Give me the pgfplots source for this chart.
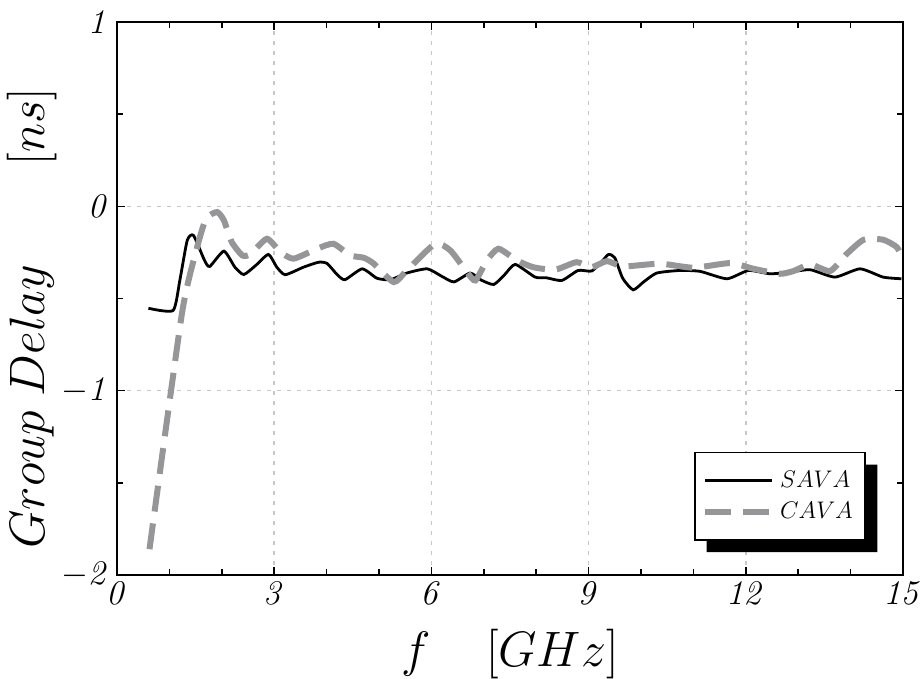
\documentclass[border=0pt]{standalone}
\usepackage{pgfplots}
\pgfplotsset{compat=1.18}
\definecolor{cavagray}{RGB}{150,150,152}
\definecolor{gridgray}{RGB}{200,200,200}
\begin{document}
\begin{tikzpicture}
\begin{axis}[
  name=ax,
  scale only axis,
  width=393pt, height=276.5pt,
  xmin=0, xmax=15, ymin=-2, ymax=1,
  xtick={0,3,6,9,12,15},
  xticklabels={$\mathit{0}$,$\mathit{3}$,$\mathit{6}$,$\mathit{9}$,$\mathit{12}$,$\mathit{15}$},
  ytick={-2,-1,0,1},
  yticklabels={$-\mathit{2}$,$-\mathit{1}$,$\mathit{0}$,$\mathit{1}$},
  minor xtick={1,2,4,5,7,8,10,11,13,14},
  minor ytick={-1.5,-0.5,0.5},
  tick align=inside,
  major tick length=4pt,
  minor tick length=3pt,
  every tick/.style={black, line width=0.8pt},
  axis line style={line width=1pt},
  grid=major,
  major grid style={gridgray, dash pattern=on 2pt off 3pt, line width=0.8pt},
  tick label style={font=\fontsize{17}{20}\selectfont},
  label style={font=\fontsize{25}{30}\selectfont},
  xlabel={$f\mkern20mu[GHz]$},
  ylabel={$Group\ Delay\mkern36mu[ns]$},
  xlabel style={yshift=-5.5pt},
  ylabel style={yshift=-5pt, xshift=-10pt},
  legend style={name=leg, at={(0.952,0.063)}, anchor=south east, draw=none,
     fill=white, font=\fontsize{13}{15}\selectfont, row sep=0pt,
     inner xsep=3.5pt, inner ysep=6pt, nodes={inner xsep=2.5pt, inner ysep=3pt}},
  legend cell align=left,
  legend image code/.code={\draw[#1] (0cm,0cm) -- (1.18cm,0cm);},
]
\addplot[black, line width=1.4pt, smooth, tension=0.35] coordinates {
(0.60,-0.553) (1.07,-0.565) (1.20,-0.40) (1.34,-0.185) (1.46,-0.158) (1.67,-0.293) (1.77,-0.326)
(2.04,-0.243) (2.25,-0.33) (2.42,-0.370) (2.65,-0.32) (2.89,-0.261) (3.05,-0.33) (3.21,-0.371) (3.56,-0.330) (3.85,-0.303)
(4.01,-0.310) (4.20,-0.37) (4.35,-0.398) (4.68,-0.339) (4.96,-0.390) (5.22,-0.398) (5.53,-0.362)
(5.92,-0.339) (6.20,-0.38) (6.43,-0.410) (6.74,-0.362) (6.95,-0.40) (7.19,-0.424) (7.40,-0.37) (7.60,-0.315) (7.98,-0.384)
(8.20,-0.388) (8.49,-0.402) (8.80,-0.348) (9.06,-0.351) (9.25,-0.30) (9.38,-0.261) (9.50,-0.279) (9.65,-0.39)
(9.85,-0.453) (10.05,-0.41) (10.30,-0.362) (10.74,-0.348) (11.13,-0.353) (11.64,-0.393) (12.05,-0.348)
(12.46,-0.366) (12.84,-0.357) (13.23,-0.344) (13.70,-0.384) (14.18,-0.339) (14.62,-0.384)
(14.97,-0.393)
};
\addlegendentry{$SAVA$}
\addplot[cavagray, line width=3pt, dash pattern=on 13pt off 6pt, smooth, tension=0.35] coordinates {
(0.62,-1.86) (1.24,-0.58) (1.53,-0.221) (1.70,-0.067) (1.91,-0.031) (2.04,-0.076)
(2.19,-0.194) (2.39,-0.266) (2.54,-0.261) (2.86,-0.176) (3.12,-0.248) (3.37,-0.284)
(3.82,-0.230) (4.13,-0.203) (4.45,-0.266) (4.71,-0.279) (4.90,-0.311) (5.28,-0.411)
(5.53,-0.348) (6.07,-0.203) (6.36,-0.239) (6.68,-0.357) (6.84,-0.402) (7.06,-0.293)
(7.28,-0.230) (7.63,-0.293) (7.94,-0.330) (8.36,-0.344) (8.77,-0.303) (9.06,-0.330)
(9.35,-0.297) (9.66,-0.326) (10.36,-0.311) (11.00,-0.333) (11.70,-0.308) (12.15,-0.339)
(12.65,-0.366) (12.91,-0.351) (13.23,-0.315) (13.61,-0.351) (13.93,-0.257) (14.25,-0.181)
(14.62,-0.181) (14.88,-0.221) (15.00,-0.284)
};
\addlegendentry{$CAVA$}
\end{axis}
% legend frame and drop shadow
\draw[black, line width=0.9pt] (leg.south west) rectangle (leg.north east);
\fill[black] ([xshift=6pt,yshift=-6pt]leg.south west) -- ([xshift=6pt,yshift=-6pt]leg.south east)
  -- ([xshift=6pt,yshift=-6pt]leg.north east) -- ([yshift=-6pt]leg.north east)
  -- (leg.south east) -- ([xshift=6pt]leg.south west) -- cycle;
\pgfresetboundingbox
\path[use as bounding box] ([xshift=-58.5pt,yshift=-52pt]ax.south west) rectangle ([xshift=8.5pt,yshift=11pt]ax.north east);
\end{tikzpicture}
\end{document}
